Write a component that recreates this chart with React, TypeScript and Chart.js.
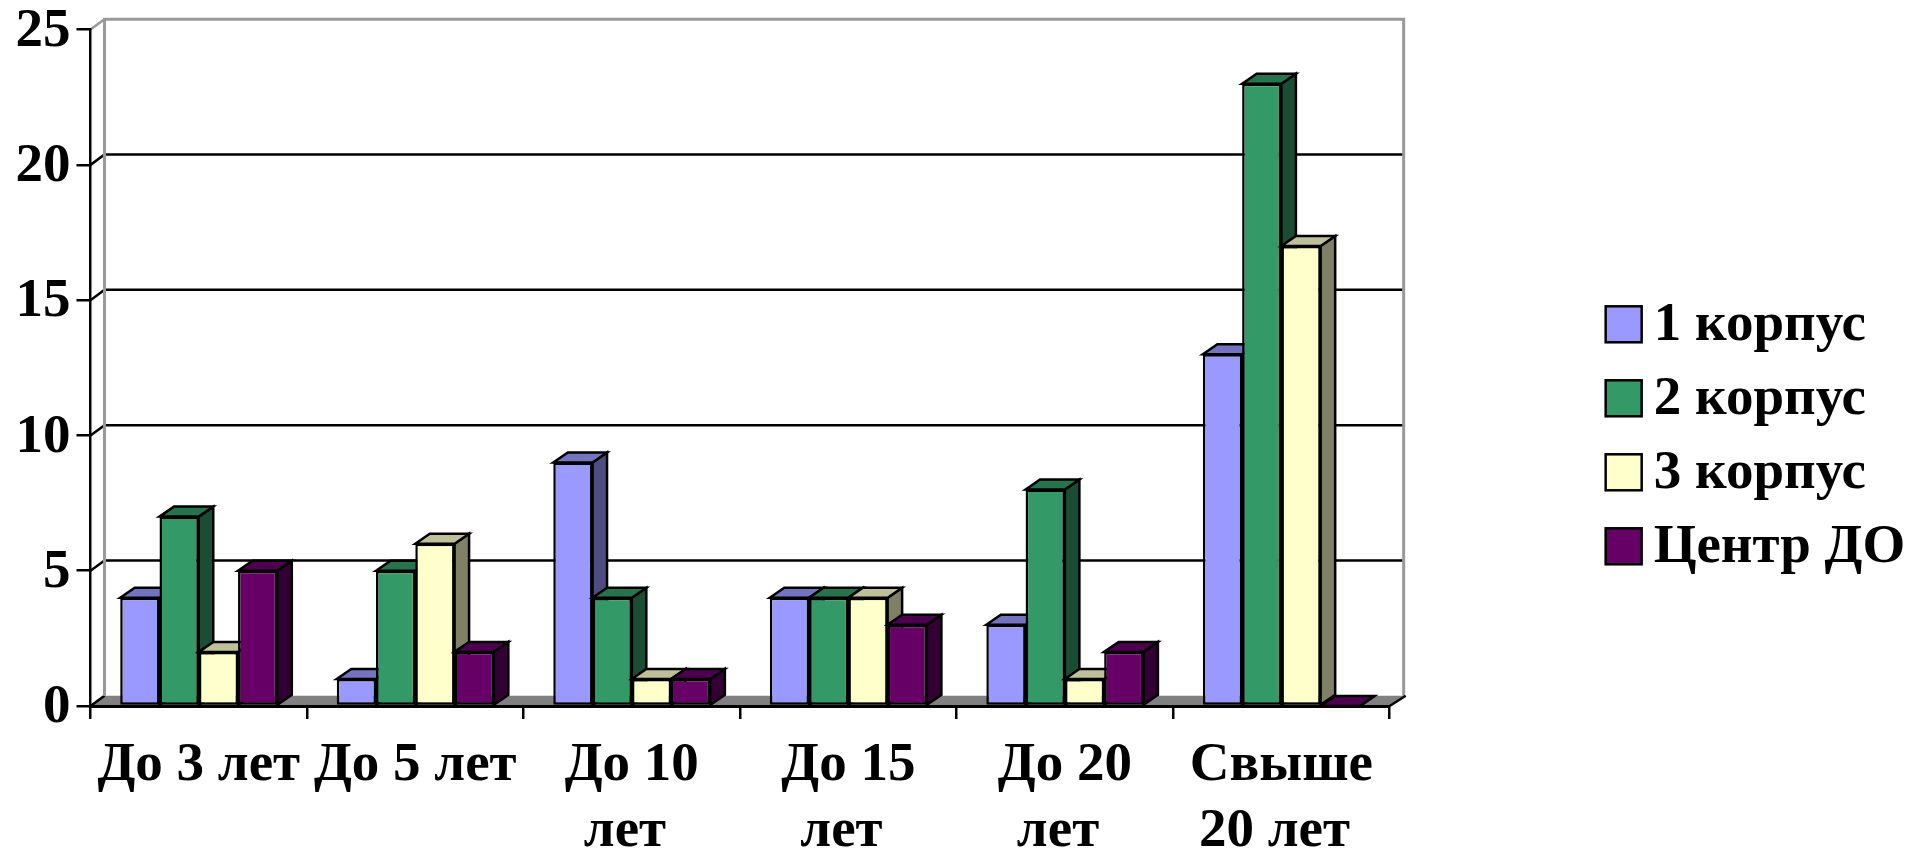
import React, { useEffect, useRef } from "react";
import { Chart, registerables } from "chart.js";

Chart.register(...registerables);

const categories = [["До 3 лет"], ["До 5 лет"], ["До 10", "лет "], ["До 15", "лет "], ["До 20", "лет "], ["Свыше", "20 лет "]];
const seriesNames = ["1 корпус", "2 корпус", "3 корпус", "Центр ДО"];
const corpus1 = [4, 1, 9, 4, 3, 13];
const corpus2 = [7, 5, 4, 4, 8, 23];
const corpus3 = [2, 6, 1, 4, 1, 17];
const centerDO = [5, 2, 1, 3, 2, 0];
const frontColors = ["#9999FF", "#339966", "#FFFFCC", "#660066"];
const topColors = ["#7373BF", "#26734D", "#BFBF99", "#4D004D"];
const sideColors = ["#4D4D80", "#1A4D33", "#808066", "#330033"];

const FONT = "'Liberation Serif', 'Times New Roman', serif";
const WALL_DX = 14;
const WALL_DY = 10.3;
const BAR_DX = 14.5;
const BAR_DY = 10;
const LINE = 2.5;

function poly(ctx: CanvasRenderingContext2D, pts: number[][], fill: string | null, stroke: string | null, lw = LINE) {
  ctx.beginPath();
  pts.forEach((p, i) => (i ? ctx.lineTo(p[0], p[1]) : ctx.moveTo(p[0], p[1])));
  ctx.closePath();
  if (fill) {
    ctx.fillStyle = fill;
    ctx.fill();
  }
  if (stroke) {
    ctx.strokeStyle = stroke;
    ctx.lineWidth = lw;
    ctx.lineJoin = "miter";
    ctx.stroke();
  }
}

const walls = {
  id: "walls3d",
  beforeDraw(chart: any) {
    const { ctx, chartArea: a, scales } = chart;
    const y = scales.y;
    ctx.save();
    // floor
    poly(ctx, [[a.left, a.bottom], [a.right, a.bottom], [a.right + WALL_DX, a.bottom - WALL_DY], [a.left + WALL_DX, a.bottom - WALL_DY]], "#808080", null);
    // gridlines, with the diagonal on the side wall
    y.ticks.forEach((t: any) => {
      const py = y.getPixelForValue(t.value);
      ctx.strokeStyle = t.value === 25 ? "#999999" : "#000";
      ctx.lineWidth = LINE;
      ctx.beginPath();
      ctx.moveTo(a.left, py);
      ctx.lineTo(a.left + WALL_DX, py - WALL_DY);
      if (t.value !== 0 && t.value !== 25) ctx.lineTo(a.right + WALL_DX, py - WALL_DY);
      ctx.stroke();
    });
    // back wall outline
    ctx.strokeStyle = "#999999";
    ctx.lineWidth = 3;
    ctx.beginPath();
    ctx.moveTo(a.left + WALL_DX, a.bottom - WALL_DY);
    ctx.lineTo(a.left + WALL_DX, a.top - WALL_DY);
    ctx.lineTo(a.right + WALL_DX, a.top - WALL_DY);
    ctx.lineTo(a.right + WALL_DX, a.bottom - WALL_DY);
    ctx.stroke();
    // floor right edge
    ctx.strokeStyle = "#000";
    ctx.lineWidth = LINE;
    ctx.beginPath();
    ctx.moveTo(a.right, a.bottom);
    ctx.lineTo(a.right + WALL_DX + 2, a.bottom - WALL_DY);
    ctx.stroke();
    ctx.restore();
  },
  // datasets are painted left to right, each bar's top and side before its front
  beforeDatasetDraw() {
    return false;
  },
  afterDatasetsDraw(chart: any) {
    const { ctx } = chart;
    chart.data.datasets.forEach((_: any, i: number) => {
      const meta = chart.getDatasetMeta(i);
      ctx.save();
      meta.data.forEach((bar: any) => {
        const half = bar.width / 2;
        const l = bar.x - half;
        const r = bar.x + half;
        const t = bar.y;
        const b = bar.base;
        poly(ctx, [[r, t], [r + BAR_DX, t - BAR_DY], [r + BAR_DX, b - BAR_DY], [r, b]], sideColors[i], "#000");
        poly(ctx, [[l, t], [l + BAR_DX, t - BAR_DY], [r + BAR_DX, t - BAR_DY], [r, t]], topColors[i], "#000");
      });
      ctx.restore();
      meta.controller.draw();
    });
  },
  afterDraw(chart: any) {
    const { ctx, legend } = chart;
    ctx.save();
    legend.legendHitBoxes.forEach((box: any, i: number) => {
      const h = 36;
      const y = box.top + box.height / 2 - h / 2 - 1;
      ctx.fillStyle = frontColors[i];
      ctx.fillRect(box.left, y, 36, h);
      ctx.strokeStyle = "#000";
      ctx.lineWidth = LINE;
      ctx.strokeRect(box.left, y, 36, h);
    });
    ctx.restore();
  },
};

export default function App() {
  const ref = useRef<HTMLCanvasElement>(null);
  useEffect(() => {
    document.body.style.margin = "0";
    document.body.style.background = "#fff";
    const series = [corpus1, corpus2, corpus3, centerDO];
    const chart = new Chart(ref.current!, {
      type: "bar",
      data: {
        labels: categories as any,
        datasets: series.map((data, i) => ({
          label: seriesNames[i],
          data,
          backgroundColor: frontColors[i],
          borderColor: "#000",
          borderWidth: LINE,
          borderSkipped: false,
          categoryPercentage: 0.7255,
          barPercentage: 1,
        })),
      },
      options: {
        animation: false,
        responsive: false,
        devicePixelRatio: 1,
        layout: { padding: { top: 29.6, left: 0, right: 6, bottom: 15 } },
        plugins: {
          title: { display: false },
          tooltip: { enabled: false },
          legend: {
            display: true,
            position: "right",
            align: "center",
            onClick: () => {},
            labels: {
              boxWidth: 20.5,
              boxHeight: 36,
              padding: 19,
              color: "#000",
              font: { family: FONT, weight: "bold", size: 55 },
              generateLabels: (c: any) =>
                c.data.datasets.map((d: any, i: number) => ({
                  text: d.label,
                  fillStyle: "rgba(0,0,0,0)",
                  strokeStyle: "rgba(0,0,0,0)",
                  lineWidth: 0,
                  datasetIndex: i,
                })),
            },
          },
        },
        scales: {
          x: {
            grid: { display: true, drawOnChartArea: false, color: "#000", lineWidth: LINE, tickLength: 13, offset: true },
            border: { display: true, color: "#000", width: 3 },
            ticks: {
              color: "#000",
              font: { family: FONT, weight: "bold", size: 55, lineHeight: 1.2 },
              maxRotation: 0,
              minRotation: 0,
              autoSkip: false,
              padding: 14,
            },
            afterFit: (s: any) => {
              s.height = 137;
              s.paddingLeft = 0;
              s.paddingRight = 0;
              // the label block runs into the bottom padding kept for centring the legend
              s._computeLabelArea = () => undefined;
            },
          },
          y: {
            min: 0,
            max: 25,
            grid: { display: true, drawOnChartArea: false, color: "#000", lineWidth: LINE, tickLength: 14 },
            border: { display: true, color: "#000", width: LINE },
            ticks: {
              stepSize: 5,
              color: "#000",
              padding: 6,
              labelOffset: 2,
              font: { family: FONT, weight: "bold", size: 55 },
            },
            afterFit: (s: any) => {
              s.width = 90.5;
              s.paddingTop = 0;
              s.paddingBottom = 0;
            },
          },
          gutter: {
            position: "right",
            display: true,
            grid: { display: false },
            border: { display: false },
            ticks: { display: false },
            afterFit: (s: any) => {
              s.width = 197;
            },
          },
        },
      } as any,
      plugins: [walls],
    });
    return () => chart.destroy();
  }, []);
  return <canvas ref={ref} width={1910} height={858} style={{ display: "block", width: 1910, height: 858 }} />;
}
